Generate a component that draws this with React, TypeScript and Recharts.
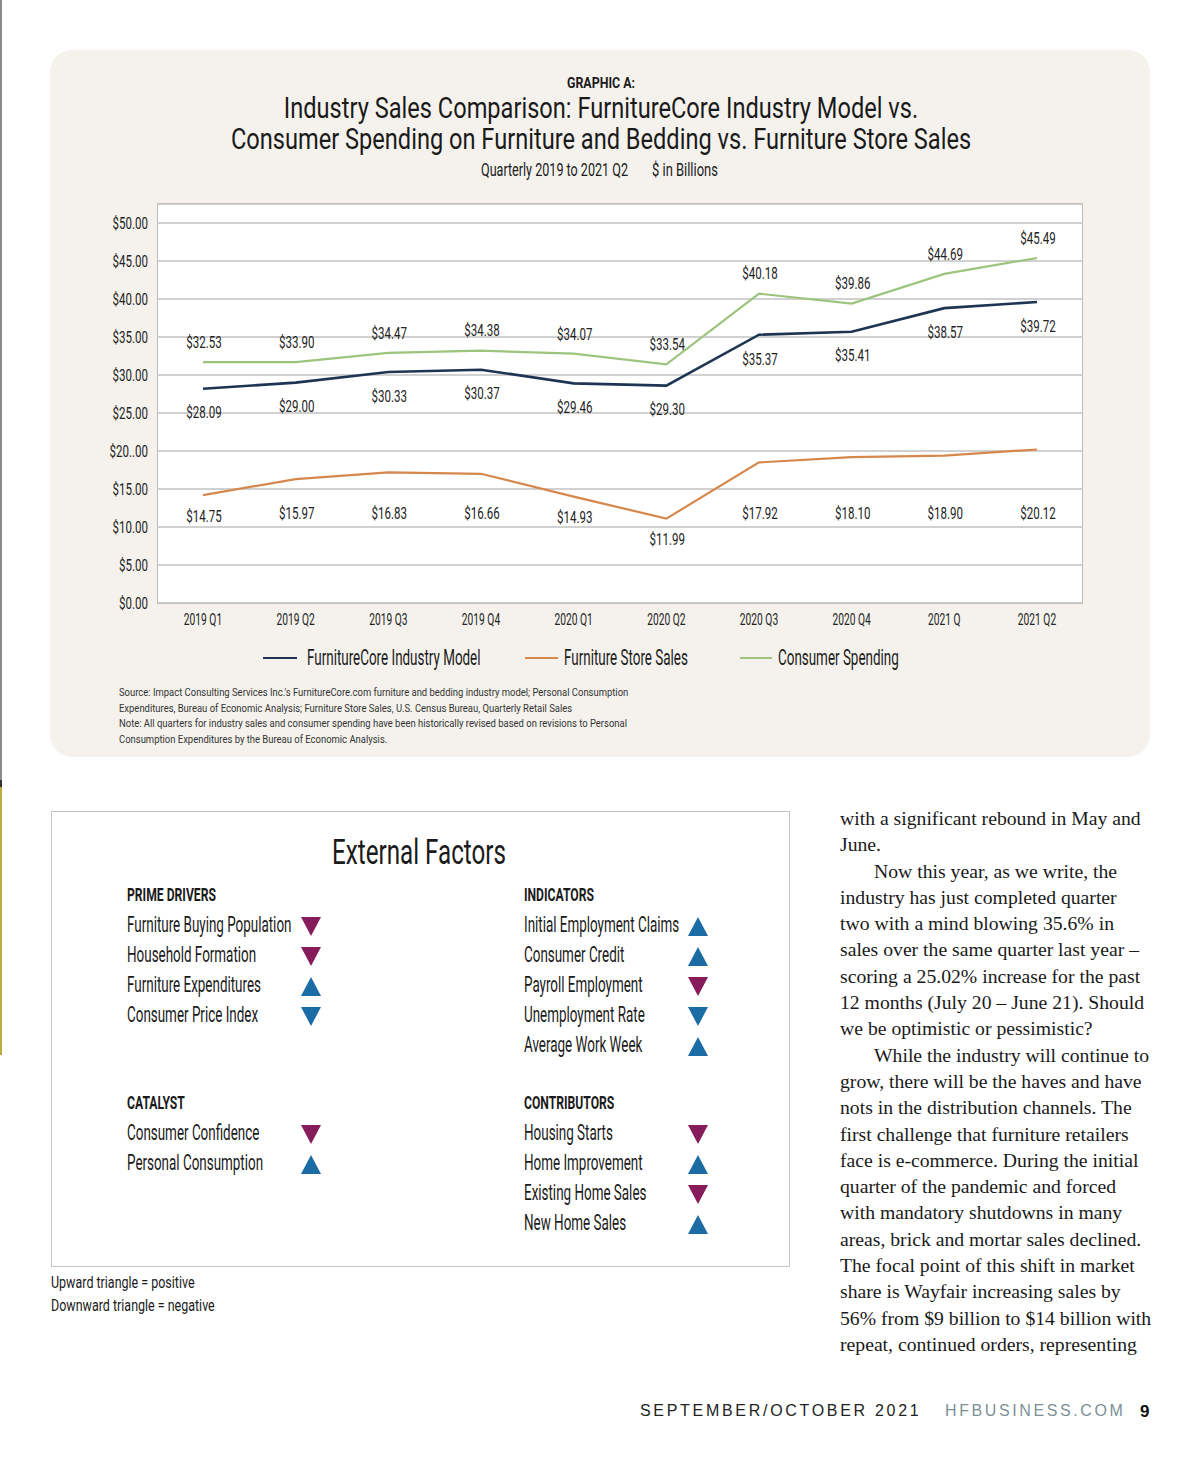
import React from 'react';
import { LineChart, Line, XAxis, YAxis, CartesianGrid, LabelList } from 'recharts';

// quarters on the x axis (as printed, typos included)
const quarters = ['2019 Q1', '2019 Q2', '2019 Q3', '2019 Q4', '2020 Q1', '2020 Q2', '2020 Q3', '2020 Q4', '2021 Q', '2021 Q2'];

// where each line is drawn, $ billions
const modelPlot = [28.2, 29.0, 30.4, 30.7, 28.9, 28.6, 35.3, 35.7, 38.8, 39.6];
const storePlot = [14.2, 16.3, 17.2, 17.0, 14.0, 11.1, 18.5, 19.2, 19.4, 20.2];
const spendPlot = [31.7, 31.7, 32.9, 33.2, 32.8, 31.4, 40.7, 39.4, 43.3, 45.4];

// printed value labels
const modelLabels = [28.09, 29.0, 30.33, 30.37, 29.46, 29.3, 35.37, 35.41, 38.57, 39.72];
const storeLabels = [14.75, 15.97, 16.83, 16.66, 14.93, 11.99, 17.92, 18.1, 18.9, 20.12];
const spendLabels = [32.53, 33.9, 34.47, 34.38, 34.07, 33.54, 40.18, 39.86, 44.69, 45.49];

const yTicks = [0, 5, 10, 15, 20, 25, 30, 35, 40, 45, 50];
const yTickLabels = ['$0.00', '$5.00', '$10.00', '$15.00', '$20..00', '$25.00', '$30.00', '$35.00', '$40.00', '$45.00', '$50.00'];

const seriesNames = ['FurnitureCore Industry Model', 'Furniture Store Sales', 'Consumer Spending'];
const seriesColors = ['#1d3553', '#d6874c', '#9cc47d'];

const primeDrivers = [
  { label: 'Furniture Buying Population', dir: 'down', color: 'purple' },
  { label: 'Household Formation', dir: 'down', color: 'purple' },
  { label: 'Furniture Expenditures', dir: 'up', color: 'blue' },
  { label: 'Consumer Price Index', dir: 'down', color: 'blue' },
];
const indicators = [
  { label: 'Initial Employment Claims', dir: 'up', color: 'blue' },
  { label: 'Consumer Credit', dir: 'up', color: 'blue' },
  { label: 'Payroll Employment', dir: 'down', color: 'purple' },
  { label: 'Unemployment Rate', dir: 'down', color: 'blue' },
  { label: 'Average Work Week', dir: 'up', color: 'blue' },
];
const catalyst = [
  { label: 'Consumer Confidence', dir: 'down', color: 'purple' },
  { label: 'Personal Consumption', dir: 'up', color: 'blue' },
];
const contributors = [
  { label: 'Housing Starts', dir: 'down', color: 'purple' },
  { label: 'Home Improvement', dir: 'up', color: 'blue' },
  { label: 'Existing Home Sales', dir: 'down', color: 'purple' },
  { label: 'New Home Sales', dir: 'up', color: 'blue' },
];

const sourceLines = [
  "Source: Impact Consulting Services Inc.'s FurnitureCore.com furniture and bedding industry model; Personal Consumption",
  'Expenditures, Bureau of Economic Analysis; Furniture Store Sales, U.S. Census Bureau, Quarterly Retail Sales',
  'Note: All quarters for industry sales and consumer spending have been historically revised based on revisions to Personal',
  'Consumption Expenditures by the Bureau of Economic Analysis.',
];

const columnLines: [string, boolean][] = [
  ['with a significant rebound in May and', false],
  ['June.', false],
  ['Now this year, as we write, the', true],
  ['industry has just completed quarter', false],
  ['two with a mind blowing 35.6% in', false],
  ['sales over the same quarter last year \u2013', false],
  ['scoring a 25.02% increase for the past', false],
  ['12 months (July 20 \u2013 June 21). Should', false],
  ['we be optimistic or pessimistic?', false],
  ['While the industry will continue to', true],
  ['grow, there will be the haves and have', false],
  ['nots in the distribution channels. The', false],
  ['first challenge that furniture retailers', false],
  ['face is e-commerce. During the initial', false],
  ['quarter of the pandemic and forced', false],
  ['with mandatory shutdowns in many', false],
  ['areas, brick and mortar sales declined.', false],
  ['The focal point of this shift in market', false],
  ['share is Wayfair increasing sales by', false],
  ['56% from $9 billion to $14 billion with', false],
  ['repeat, continued orders, representing', false],
];

const data = quarters.map((q, i) => ({
  q,
  model: modelPlot[i],
  store: storePlot[i],
  spend: spendPlot[i],
  modelLabel: modelLabels[i],
  storeLabel: storeLabels[i],
  spendLabel: spendLabels[i],
}));

const COND = "Roboto, 'Liberation Sans', sans-serif";
const INK = '#1a1a1a';
const PURPLE = '#861c5b';
const BLUE = '#1b6ca4';

// chart geometry
const CH_LEFT = 50;
const CH_TOP = 190;
const CH_W = 1100;
const M_TOP = 14;
const Y_W = 108;
const M_RIGHT = 68;
const X_H = 40;
const PLOT_H = 399;
const CH_H = M_TOP + PLOT_H + X_H;
const Y_MAX = 52.5;
const yPix = (v: number) => M_TOP + PLOT_H * (1 - v / Y_MAX);

const Txt = ({ x, y, size, k = 1, anchor = 'start', weight = 400, color = INK, family = COND, spacing = 0, children }: any) => (
  <div
    style={{
      position: 'absolute',
      left: x,
      top: y,
      fontSize: size,
      fontWeight: weight,
      color,
      fontFamily: family,
      letterSpacing: spacing,
      whiteSpace: 'nowrap',
      lineHeight: 1,
      transformOrigin: anchor === 'middle' ? 'center' : anchor === 'end' ? 'right center' : 'left center',
      transform: `${anchor === 'middle' ? 'translateX(-50%) ' : anchor === 'end' ? 'translateX(-100%) ' : ''}translateY(-50%) scaleX(${k})`,
    }}
  >
    {children}
  </div>
);

const Tri = ({ x, y, dir, color }: any) => (
  <svg style={{ position: 'absolute', left: x - 10, top: y - 9 }} width={20} height={19}>
    <polygon points={dir === 'up' ? '10,0 20,19 0,19' : '0,0 20,0 10,19'} fill={color === 'purple' ? PURPLE : BLUE} />
  </svg>
);

const XTick = ({ x, y, payload }: any) => (
  <text transform={`translate(${x},${y + 16}) scale(0.62,1)`} textAnchor="middle" dominantBaseline="central" fontSize={16.5} fill="#222" fontFamily={COND}>
    {payload.value}
  </text>
);

const YTick = ({ x, y, payload }: any) => (
  <text transform={`translate(${x - 10},${y}) scale(0.7,1)`} textAnchor="end" dominantBaseline="central" fontSize={16.5} fill="#222" fontFamily={COND}>
    {yTickLabels[yTicks.indexOf(payload.value)]}
  </text>
);

const valueLabel = (place: 'above' | 'below' | 'row') => (props: any) => {
  const { x, y, value } = props;
  let ty = y;
  if (place === 'above') ty = y - 20;
  if (place === 'below') ty = y + 24;
  if (place === 'row') ty = Math.max(y + 21, yPix(11.75));
  return (
    <text transform={`translate(${x + 1},${ty}) scale(0.7,1)`} textAnchor="middle" dominantBaseline="central" fontSize={16.5} fill="#222" fontFamily={COND}>
      {`$${Number(value).toFixed(2)}`}
    </text>
  );
};

const FactorGroup = ({ title, items, x, y, triX }: any) => (
  <>
    <Txt x={x} y={y} size={18.7} weight={700} k={0.65}>{title}</Txt>
    {items.map((it: any, i: number) => (
      <React.Fragment key={it.label}>
        <Txt x={x} y={y + 30 + i * 30} size={22} k={0.61}>{it.label}</Txt>
        <Tri x={triX} y={y + 31 + i * 30} dir={it.dir} color={it.color} />
      </React.Fragment>
    ))}
  </>
);

const legendLineX = [263, 525, 740];
const legendLineW = [34, 33, 32];
const legendTextX = [307, 564, 778];

export default function App() {
  return (
    <div style={{ position: 'absolute', left: 0, top: 0, width: 1200, height: 1470, background: '#fff', overflow: 'hidden' }}>
      {/* page edge */}
      <div style={{ position: 'absolute', left: 0, top: 0, width: 2, height: 780, background: '#8a8a8a' }} />
      <div style={{ position: 'absolute', left: 0, top: 780, width: 2, height: 7, background: '#333' }} />
      <div style={{ position: 'absolute', left: 0, top: 787, width: 2, height: 268, background: '#b9ae3e' }} />

      {/* chart panel */}
      <div style={{ position: 'absolute', left: 50, top: 50, width: 1100, height: 707, borderRadius: 22, background: '#f5f2ed' }} />

      <Txt x={601} y={84} size={15.5} weight={700} k={0.8} anchor="middle">GRAPHIC A:</Txt>
      <Txt x={601} y={109} size={29.5} k={0.8} anchor="middle">Industry Sales Comparison: FurnitureCore Industry Model vs.</Txt>
      <Txt x={601} y={140} size={29.5} k={0.8} anchor="middle">Consumer Spending on Furniture and Bedding vs. Furniture Store Sales</Txt>
      <Txt x={481} y={170} size={18.5} k={0.68}>Quarterly 2019 to 2021 Q2</Txt>
      <Txt x={652} y={170} size={18.5} k={0.7}>$ in Billions</Txt>

      {/* plot frame */}
      <div style={{ position: 'absolute', left: 157, top: 203, width: 926, height: 401, boxSizing: 'border-box', border: '1.5px solid #bcbcbc', background: '#fff' }} />

      <div style={{ position: 'absolute', left: CH_LEFT, top: CH_TOP, width: CH_W, height: CH_H }}>
        <LineChart width={CH_W} height={CH_H} data={data} margin={{ top: M_TOP, right: M_RIGHT, left: 0, bottom: 0 }}>
          <CartesianGrid vertical={false} stroke="#c2c2c2" strokeWidth={1.5} />
          <XAxis dataKey="q" height={X_H} axisLine={false} tickLine={false} tickSize={0} tickMargin={0} padding={{ left: 45, right: 45 }} tick={<XTick />} interval={0} />
          <YAxis width={Y_W} domain={[0, Y_MAX]} ticks={yTicks} axisLine={false} tickLine={false} tickSize={0} tickMargin={0} tick={<YTick />} interval={0} />
          <Line dataKey="spend" stroke={seriesColors[2]} strokeWidth={2.2} dot={false} isAnimationActive={false}>
            <LabelList dataKey="spendLabel" content={valueLabel('above')} />
          </Line>
          <Line dataKey="store" stroke={seriesColors[1]} strokeWidth={2.2} dot={false} isAnimationActive={false}>
            <LabelList dataKey="storeLabel" content={valueLabel('row')} />
          </Line>
          <Line dataKey="model" stroke={seriesColors[0]} strokeWidth={2.6} dot={false} isAnimationActive={false}>
            <LabelList dataKey="modelLabel" content={valueLabel('below')} />
          </Line>
        </LineChart>
      </div>

      {/* legend */}
      {seriesNames.map((name, i) => (
        <React.Fragment key={name}>
          <div style={{ position: 'absolute', left: legendLineX[i], top: 657, width: legendLineW[i], height: 1.5, background: seriesColors[i] }} />
          <Txt x={legendTextX[i]} y={658} size={22} k={0.61}>{name}</Txt>
        </React.Fragment>
      ))}

      {sourceLines.map((l, i) => (
        <Txt key={i} x={119} y={693 + i * 15.6} size={10.5} k={0.9} color="#333">{l}</Txt>
      ))}

      {/* external factors box */}
      <div style={{ position: 'absolute', left: 51, top: 811, width: 739, height: 456, boxSizing: 'border-box', border: '1.5px solid #c4c4c4' }} />
      <Txt x={419} y={852} size={35} k={0.69} anchor="middle">External Factors</Txt>
      <FactorGroup title="PRIME DRIVERS" items={primeDrivers} x={127} y={895} triX={311} />
      <FactorGroup title="INDICATORS" items={indicators} x={524} y={895} triX={698} />
      <FactorGroup title="CATALYST" items={catalyst} x={127} y={1103} triX={311} />
      <FactorGroup title="CONTRIBUTORS" items={contributors} x={524} y={1103} triX={698} />
      <Txt x={51} y={1283} size={16} k={0.78}>Upward triangle = positive</Txt>
      <Txt x={51} y={1306} size={16} k={0.78}>Downward triangle = negative</Txt>

      {/* article column */}
      <div style={{ position: 'absolute', left: 840, top: 805, fontFamily: "'Liberation Serif', serif", fontSize: 19.7, lineHeight: '26.3px', color: '#1a1a1a', whiteSpace: 'nowrap' }}>
        {columnLines.map(([t, indent], i) => (
          <div key={i} style={{ paddingLeft: indent ? 34 : 0 }}>{t}</div>
        ))}
      </div>

      {/* footer */}
      <Txt x={640} y={1411} size={16} family="'Liberation Sans', Arial, sans-serif" spacing={2.7} color="#222">SEPTEMBER/OCTOBER 2021</Txt>
      <Txt x={945} y={1411} size={16} family="'Liberation Sans', Arial, sans-serif" spacing={2.6} color="#7d8f97">HFBUSINESS.COM</Txt>
      <Txt x={1140} y={1411} size={17} weight={700} family="'Liberation Sans', Arial, sans-serif" color="#111">9</Txt>
    </div>
  );
}
